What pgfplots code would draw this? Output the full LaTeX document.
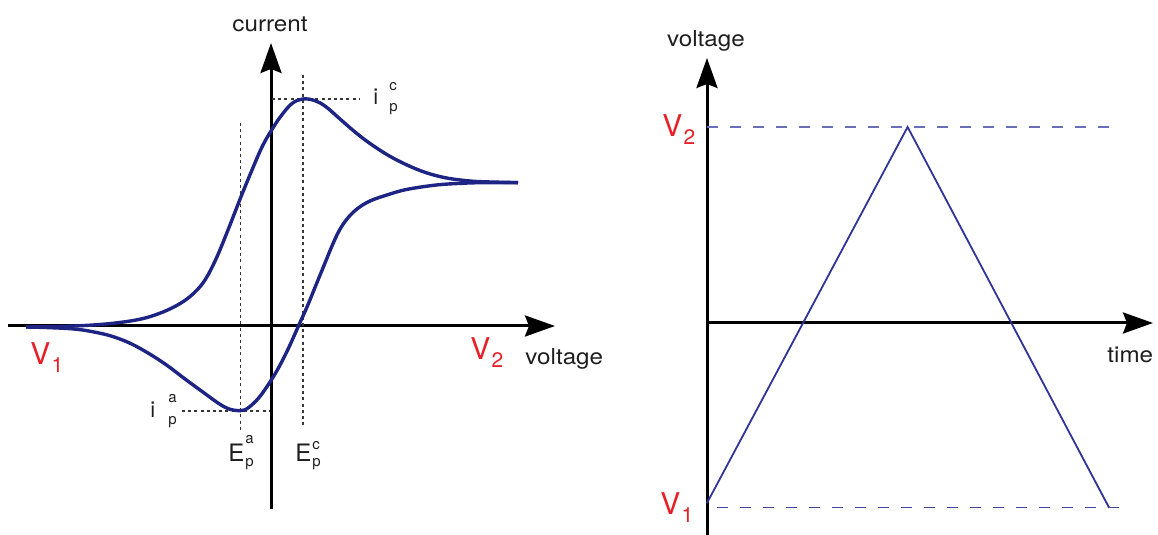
\documentclass[border=0pt]{standalone}
\usepackage{fontspec}
\setmainfont{TeX Gyre Heros}
\usepackage{pgfplots}
\pgfplotsset{compat=1.18}
\usetikzlibrary{arrows.meta}
\definecolor{cvblue}{RGB}{30,36,132}
\definecolor{triblue}{RGB}{48,52,150}
\definecolor{dashblue}{RGB}{105,110,185}
\definecolor{dashblueb}{RGB}{65,70,160}
\definecolor{vred}{RGB}{230,32,40}
\definecolor{dotgray}{RGB}{55,55,55}
\definecolor{txt}{RGB}{30,30,30}
\newcommand{\lab}[1]{\fontsize{11pt}{11pt}\selectfont #1}
\newcommand{\sm}[1]{\fontsize{7.5pt}{7.5pt}\selectfont #1}
\newcommand{\VV}[1]{\textcolor{vred}{\fontsize{15pt}{15pt}\selectfont V\kern0.6pt\raisebox{-4pt}{\fontsize{10.5pt}{10.5pt}\selectfont #1}}}
\pgfplotsset{
  sketch/.style={x=0.5pt, y=0.5pt, axis lines=middle, xtick=\empty, ytick=\empty,
    clip=false, enlargelimits=false,
    axis line style={line width=1.5pt, black, -{Stealth[length=15pt,width=10.5pt,inset=2pt]}}},
  dotline/.style={no marks, color=dotgray, line width=0.75pt, dash pattern=on 1.5pt off 1.6pt},
}
\begin{document}
\begin{tikzpicture}
\useasboundingbox (0,0) rectangle (579pt,267.5pt);
% ---------------- left: cyclic voltammogram ----------------
\begin{axis}[sketch, xmin=-263, xmax=284, ymin=-183, ymax=283,
  anchor=south west, at={(4pt,13pt)}]
\addplot[dotline] coordinates {(32,251) (32,-100)};
\addplot[dotline] coordinates {(-30.5,203) (-30.5,-104)};
\addplot[dotline] coordinates {(1,227) (89,227)};
\addplot[dotline] coordinates {(-89,-85) (-1,-85)};
\addplot[cvblue, line width=1.7pt, smooth, tension=0.6, no marks] coordinates {
(-245,-1) (-197,0) (-160,2.5) (-130,7) (-108,14) (-90,23) (-77,33) (-66,46)
(-55,67) (-43,96) (-30.5,128) (-19,156) (-9,179) (0,195) (10,210)
(21,222.5) (32,227) (43.5,225.5) (54.6,219.5) (69,207) (84,194) (99,182.5)
(117.5,170.5) (136,161) (154.5,153.5) (173,148.5) (191,145.8) (210,144.3) (247,143.4)};
\addplot[cvblue, line width=1.7pt, smooth, tension=0.6, no marks] coordinates {
(247,143.4) (210,143.3) (191,142.7) (165.5,141) (136,136.6) (117.5,131.5)
(99,125) (86,117) (76,107) (68,95) (61,80) (54,63) (45,41) (36,19) (27,-1)
(17.6,-22) (8,-41) (-1,-56) (-12,-71.6) (-23,-82) (-30.5,-84.6) (-42,-83)
(-53,-77) (-67.5,-66.5) (-86,-53) (-104.5,-39) (-123,-27) (-141.5,-17)
(-160,-10) (-178.5,-5.7) (-197,-3) (-223,-1.6) (-245,-1)};
\node[anchor=base, xscale=1.1, text=txt, inner sep=0pt] at (axis cs:-1,294) {\lab{current}};
\node[anchor=base west, xscale=1.1, text=txt, inner sep=0pt] at (axis cs:254,-39) {\lab{voltage}};
\node[anchor=base west, inner sep=0pt] at (axis cs:-241,-39) {\VV{1}};
\node[anchor=base west, inner sep=0pt] at (axis cs:199,-34) {\VV{2}};
% i_p^c
\node[anchor=base west, inner sep=0pt, text=txt] at (axis cs:102,221) {\fontsize{11pt}{11pt}\selectfont i};
\node[anchor=base west, inner sep=0pt, text=txt] at (axis cs:118,235) {\sm{c}};
\node[anchor=base west, inner sep=0pt, text=txt] at (axis cs:118,214) {\sm{p}};
% i_p^a
\node[anchor=base west, inner sep=0pt, text=txt] at (axis cs:-121,-92) {\fontsize{11pt}{11pt}\selectfont i};
\node[anchor=base west, inner sep=0pt, text=txt] at (axis cs:-103,-77) {\sm{a}};
\node[anchor=base west, inner sep=0pt, text=txt] at (axis cs:-103,-99) {\sm{p}};
% E_p^a
\node[anchor=base west, inner sep=0pt, text=txt] at (axis cs:-43,-136) {\fontsize{12pt}{12pt}\selectfont E};
\node[anchor=base west, inner sep=0pt, text=txt] at (axis cs:-26,-118) {\sm{a}};
\node[anchor=base west, inner sep=0pt, text=txt] at (axis cs:-26,-141) {\sm{p}};
% E_p^c
\node[anchor=base west, inner sep=0pt, text=txt] at (axis cs:24,-136) {\fontsize{12pt}{12pt}\selectfont E};
\node[anchor=base west, inner sep=0pt, text=txt] at (axis cs:41,-124) {\sm{c}};
\node[anchor=base west, inner sep=0pt, text=txt] at (axis cs:41,-141) {\sm{p}};
\end{axis}
% ---------------- right: triangular waveform ----------------
\begin{axis}[sketch, xmin=0, xmax=446, ymin=-212, ymax=265,
  anchor=south west, at={(353.5pt,0pt)}]
\addplot[dashblue, line width=0.7pt, dash pattern=on 5.5pt off 6pt, no marks] coordinates {(0,196) (404,196)};
\addplot[dashblueb, line width=0.7pt, dash pattern=on 5.5pt off 6pt, no marks] coordinates {(10,-184.5) (414,-184.5)};
\addplot[triblue, line width=0.9pt, no marks] coordinates {(0,-180) (200.6,196) (402,-184.5)};
\node[anchor=base, xscale=1.1, text=txt, inner sep=0pt] at (axis cs:-1,276) {\lab{voltage}};
\node[anchor=base west, xscale=1.1, text=txt, inner sep=0pt] at (axis cs:400,-40) {\lab{time}};
\node[anchor=base west, inner sep=0pt] at (axis cs:-45,186) {\VV{2}};
\node[anchor=base west, inner sep=0pt] at (axis cs:-47,-192) {\VV{1}};
\end{axis}
\end{tikzpicture}
\end{document}
